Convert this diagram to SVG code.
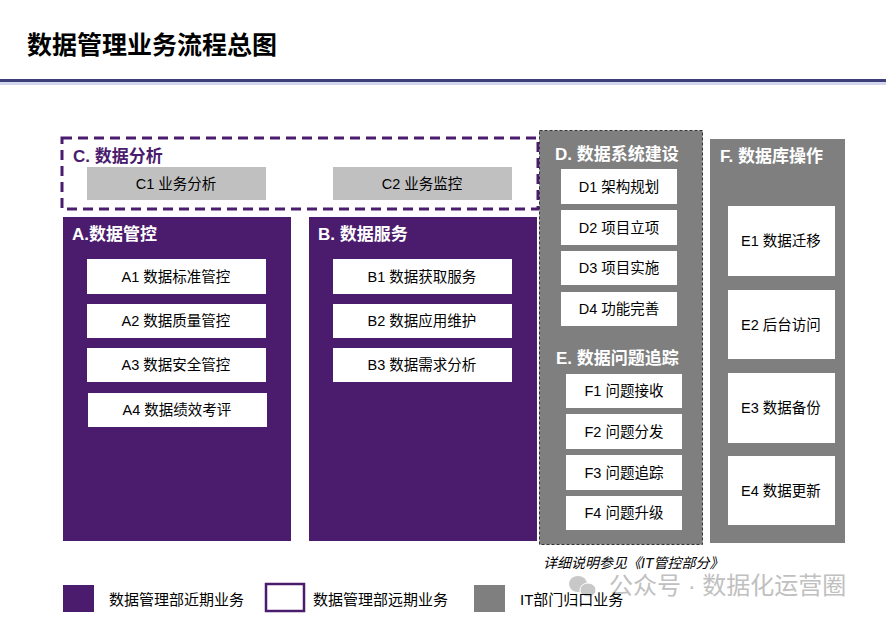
<svg xmlns="http://www.w3.org/2000/svg" width="886" height="621" viewBox="0 0 886 621">
<style>
text{font-family:"Liberation Sans","Noto Sans CJK SC",sans-serif;}
.purple{fill:#4b1c6e;}
.gray{fill:#7f7f7f;}
.box{fill:#ffffff;}
.cbox{fill:#c0c0c0;}
.lbl{font-size:14.5px;fill:#000;text-anchor:middle;}
.hw{font-size:17px;font-weight:bold;fill:#ffffff;}
.hp{font-size:17px;font-weight:bold;fill:#4b1c6e;}
.leg{font-size:15px;fill:#000;}
</style>
<rect width="886" height="621" fill="#ffffff"/>
<g id="title">
<text x="27" y="54" font-size="25" font-weight="bold" fill="#000">数据管理业务流程总图</text>
<rect x="0" y="81" width="886" height="4" fill="#d4d6ee"/>
<rect x="0" y="79" width="886" height="3" fill="#3d4078"/>
</g>
<g id="C">
<rect x="62" y="138" width="476" height="71" fill="#ffffff" stroke="#4b1c6e" stroke-width="3" stroke-dasharray="10,6"/>
<text class="hp" x="73" y="162">C. 数据分析</text>
<g id="C1"><rect class="cbox" x="87" y="167" width="179" height="33"/><text class="lbl" x="176" y="189">C1 业务分析</text></g>
<g id="C2"><rect class="cbox" x="333" y="167" width="179" height="33"/><text class="lbl" x="422" y="189">C2 业务监控</text></g>
</g>
<g id="A">
<rect class="purple" x="63" y="217" width="228" height="324"/>
<text class="hw" x="72" y="240">A.数据管控</text>
<g id="A1"><rect class="box" x="87" y="259" width="179" height="35"/><text class="lbl" x="176" y="282">A1 数据标准管控</text></g>
<g id="A2"><rect class="box" x="87" y="304" width="179" height="34"/><text class="lbl" x="176" y="326">A2 数据质量管控</text></g>
<g id="A3"><rect class="box" x="87" y="348" width="179" height="34"/><text class="lbl" x="176" y="370">A3 数据安全管控</text></g>
<g id="A4"><rect class="box" x="88" y="393" width="179" height="34"/><text class="lbl" x="177" y="415">A4 数据绩效考评</text></g>
</g>
<g id="B">
<rect class="purple" x="309" y="217" width="228" height="324"/>
<text class="hw" x="318" y="240">B. 数据服务</text>
<g id="B1"><rect class="box" x="333" y="259" width="179" height="35"/><text class="lbl" x="422" y="282">B1 数据获取服务</text></g>
<g id="B2"><rect class="box" x="333" y="304" width="179" height="34"/><text class="lbl" x="422" y="326">B2 数据应用维护</text></g>
<g id="B3"><rect class="box" x="333" y="348" width="179" height="34"/><text class="lbl" x="422" y="370">B3 数据需求分析</text></g>
</g>
<g id="DE">
<rect class="gray" x="539.5" y="130.5" width="163" height="414" stroke="#333333" stroke-width="1" stroke-dasharray="3,2"/>
<text class="hw" x="555" y="160">D. 数据系统建设</text>
<g id="D1"><rect class="box" x="561" y="169" width="116" height="35"/><text class="lbl" x="619" y="192">D1 架构规划</text></g>
<g id="D2"><rect class="box" x="561" y="210" width="116" height="35"/><text class="lbl" x="619" y="233">D2 项目立项</text></g>
<g id="D3"><rect class="box" x="561" y="251" width="116" height="34"/><text class="lbl" x="619" y="273">D3 项目实施</text></g>
<g id="D4"><rect class="box" x="561" y="292" width="116" height="34"/><text class="lbl" x="619" y="314">D4 功能完善</text></g>
<text class="hw" x="556" y="364">E. 数据问题追踪</text>
<g id="F1"><rect class="box" x="566" y="374" width="116" height="34"/><text class="lbl" x="624" y="396">F1 问题接收</text></g>
<g id="F2"><rect class="box" x="566" y="414" width="116" height="35"/><text class="lbl" x="624" y="437">F2 问题分发</text></g>
<g id="F3"><rect class="box" x="566" y="455" width="116" height="35"/><text class="lbl" x="624" y="478">F3 问题追踪</text></g>
<g id="F4"><rect class="box" x="566" y="496" width="116" height="34"/><text class="lbl" x="624" y="518">F4 问题升级</text></g>
</g>
<g id="F">
<rect class="gray" x="710" y="139" width="135" height="404"/>
<text class="hw" x="720" y="162">F. 数据库操作</text>
<g id="E1"><rect class="box" x="728" y="206" width="107" height="70"/><text class="lbl" x="781" y="246">E1 数据迁移</text></g>
<g id="E2"><rect class="box" x="728" y="290" width="107" height="69"/><text class="lbl" x="781" y="330">E2 后台访问</text></g>
<g id="E3"><rect class="box" x="728" y="373" width="107" height="70"/><text class="lbl" x="781" y="413">E3 数据备份</text></g>
<g id="E4"><rect class="box" x="728" y="456" width="107" height="69"/><text class="lbl" x="781" y="496">E4  数据更新</text></g>
</g>
<g id="connectors"></g>
<g id="notes">
<text x="543" y="568" font-size="14" font-style="italic" fill="#000">详细说明参见《IT管控部分》</text>
<g id="watermark" fill="#c8c8c8">
<ellipse cx="578" cy="584" rx="9" ry="8"/>
<ellipse cx="588" cy="590" rx="8" ry="7" stroke="#fff" stroke-width="1"/>
<text x="609" y="594" font-size="24" fill="#c0c0c0">公众号 · 数据化运营圈</text>
</g>
</g>
<g id="legend">
<rect class="purple" x="63" y="585" width="31" height="27"/>
<text class="leg" x="109" y="605">数据管理部近期业务</text>
<rect x="266" y="584" width="38" height="27" fill="#ffffff" stroke="#4b1c6e" stroke-width="2.5"/>
<text class="leg" x="313" y="605">数据管理部远期业务</text>
<rect class="gray" x="474" y="585" width="31" height="27"/>
<text class="leg" x="520" y="605">IT部门归口业务</text>
</g>
</svg>
